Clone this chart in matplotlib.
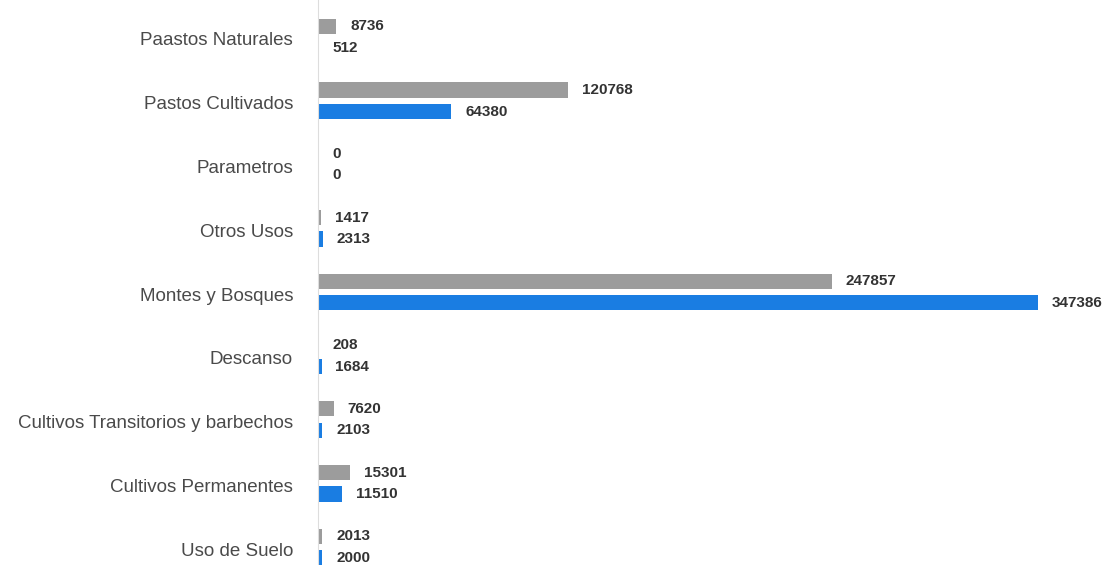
import matplotlib
matplotlib.use("Agg")
import matplotlib.pyplot as plt
import matplotlib.transforms as mtransforms
import numpy as np

# -----------------------------
# Datos
# -----------------------------
categorias = [
    "Paastos Naturales",
    "Pastos Cultivados",
    "Parametros",
    "Otros Usos",
    "Montes y Bosques",
    "Descanso",
    "Cultivos Transitorios y barbechos",
    "Cultivos Permanentes",
    "Uso de Suelo",
]
serie_gris = [8736, 120768, 0, 1417, 247857, 208, 7620, 15301, 2013]
serie_azul = [512, 64380, 0, 2313, 347386, 1684, 2103, 11510, 2000]

gris = "#9c9c9c"
azul = "#1a7de2"
fuente = ["Liberation Sans", "DejaVu Sans"]

# -----------------------------
# Gráfico
# -----------------------------
fig = plt.figure(figsize=(11.12, 5.65), dpi=100)
ax = fig.add_axes([0.286, 0.0, 0.714, 1.0])

y = np.arange(len(categorias))
alto = 0.24
desp = 0.169

ax.barh(y - desp, serie_gris, height=alto, color=gris)
ax.barh(y + desp, serie_azul, height=alto, color=azul)

for yi, v in zip(y - desp, serie_gris):
    ax.annotate(str(v), (v, yi), xytext=(10, 0), textcoords="offset points",
                va="center", ha="left", fontsize=11, fontweight="bold",
                color="#333333", family=fuente)
for yi, v in zip(y + desp, serie_azul):
    ax.annotate(str(v), (v, yi), xytext=(10, 0), textcoords="offset points",
                va="center", ha="left", fontsize=11, fontweight="bold",
                color="#333333", family=fuente)

ax.set_xlim(0, 383000)
ax.set_ylim(8.28, -0.58)
ax.set_yticks(y)
ax.set_yticklabels(categorias, fontsize=13.5, color="#4a4a4a", family=fuente)
ax.tick_params(axis="y", length=0, pad=18)
ax.set_xticks([])

# etiquetas un poco mas abajo, como en la imagen
desplaz = mtransforms.ScaledTranslation(0, -2 / 100, fig.dpi_scale_trans)
for lbl in ax.get_yticklabels():
    lbl.set_transform(lbl.get_transform() + desplaz)

for s in ["top", "right", "bottom"]:
    ax.spines[s].set_visible(False)
ax.spines["left"].set_color("#dddddd")
ax.patch.set_alpha(0)

fig.savefig("out.png", dpi=100)
